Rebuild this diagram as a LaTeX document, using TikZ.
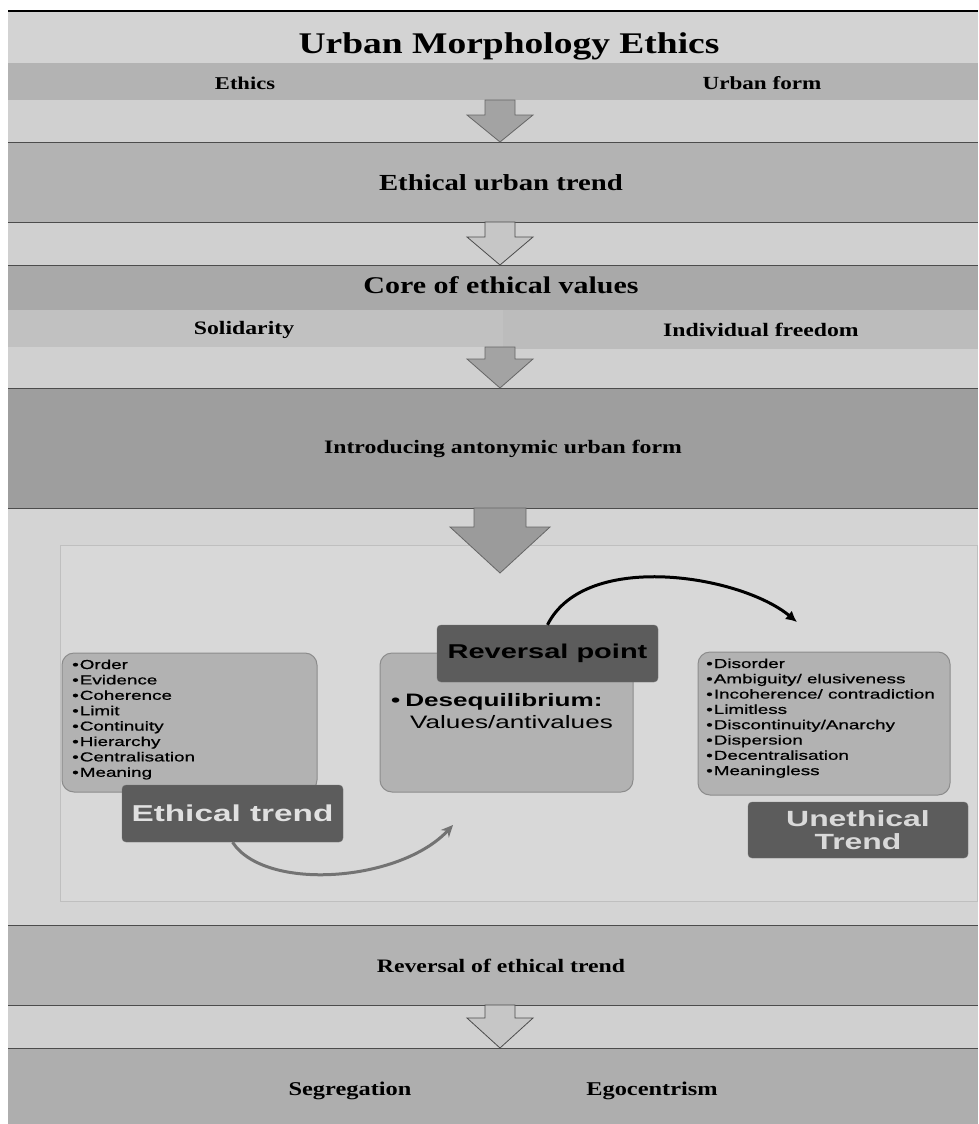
\documentclass[tikz,border=0pt]{standalone}
\usepackage{fontspec}
\setmainfont[FakeStretch=1.25]{Liberation Serif}
\newfontfamily\panelfont[FakeStretch=1.45]{Liberation Sans}
\newfontfamily\itemfont[FakeStretch=1.45,FakeBold=0.8]{Liberation Sans}
\usetikzlibrary{arrows.meta}

\definecolor{titlegray}{HTML}{D3D3D3}
\definecolor{bandlight}{HTML}{D0D0D0}
\definecolor{bandmid}{HTML}{B3B3B3}
\definecolor{bandcore}{HTML}{A9A9A9}
\definecolor{bandsoli}{HTML}{C1C1C1}
\definecolor{bandfree}{HTML}{BCBCBC}
\definecolor{banddark}{HTML}{9E9E9E}
\definecolor{panelgray}{HTML}{D4D4D4}
\definecolor{panelinner}{HTML}{D8D8D8}
\definecolor{boxgray}{HTML}{B2B2B2}
\definecolor{taggray}{HTML}{5C5C5C}
\definecolor{arrowgray}{HTML}{A3A3A3}
\definecolor{arrowlight}{HTML}{C6C6C6}

% block arrow pointing down: style, top, shoulder, tip, half shaft, half head
\newcommand{\bandarrow}[6]{%
  \draw[#1] ({500-#5},#2) -- ({500+#5},#2) -- ({500+#5},#3) -- ({500+#6},#3)
    -- (500,#4) -- ({500-#6},#3) -- ({500-#5},#3) -- cycle;}

\tikzset{
  sepline/.style={draw=black!70,line width=1pt},
  bandtext/.style={anchor=base,inner sep=0pt,font=\bfseries\fontsize{19}{19}\selectfont},
  listbox/.style={draw=black!45,fill=boxgray,rounded corners=12pt,line width=1pt},
  tagbox/.style={draw=black!55,fill=taggray,rounded corners=4pt,inner sep=0pt,
    font=\panelfont\bfseries\fontsize{23}{23}\selectfont},
  itemtext/.style={anchor=base west,inner sep=0pt,
    font=\itemfont\fontsize{13}{13}\selectfont},
  fullarrow/.style={draw=black!60,fill=arrowgray,line width=0.8pt},
  openarrow/.style={draw=black!70,fill=arrowlight,line width=0.8pt},
}

\begin{document}
\begin{tikzpicture}[x=1pt,y=-1pt]
\useasboundingbox (0,0) rectangle (978,1124);
\fill[white] (0,0) rectangle (978,1124);

% bands
\fill[titlegray] (8,11) rectangle (978,63);
\fill[bandmid] (8,63) rectangle (978,100);
\fill[bandlight] (8,100) rectangle (978,142);
\fill[bandmid] (8,142) rectangle (978,222);
\fill[bandlight] (8,222) rectangle (978,265);
\fill[bandcore] (8,265) rectangle (978,310);
\fill[bandsoli] (8,310) rectangle (503,347);
\fill[bandfree] (503,310) rectangle (978,349);
\fill[bandlight] (8,347) rectangle (503,388);
\fill[bandlight] (503,349) rectangle (978,388);
\fill[banddark] (8,388) rectangle (978,508);
\fill[panelgray] (8,508) rectangle (978,925);
\draw[draw=black!25,fill=panelinner] (60,545) rectangle (977,901);
\fill[bandmid] (8,925) rectangle (978,1005);
\fill[bandlight] (8,1005) rectangle (978,1048);
\fill[bandmid!97!black] (8,1048) rectangle (978,1124);

\draw[black,line width=1.5pt] (8,11) -- (978,11);
\foreach \y in {142,222,265,388,508,925,1005,1048}
  \draw[sepline] (8,\y) -- (978,\y);

% band texts
\node[bandtext,font=\bfseries\fontsize{30}{30}\selectfont] (title) at (509,53) {Urban Morphology Ethics};
\node[bandtext,font=\bfseries\fontsize{18}{18}\selectfont] (ethics) at (245,89) {Ethics};
\node[bandtext,font=\bfseries\fontsize{18.5}{18.5}\selectfont] (form) at (762,89) {Urban form};
\node[bandtext,font=\bfseries\fontsize{23}{23}\selectfont] (trend) at (501,190) {Ethical urban trend};
\node[bandtext,font=\bfseries\fontsize{24}{24}\selectfont] (core) at (501,293) {Core of ethical values};
\node[bandtext] (soli) at (244,334) {Solidarity};
\node[bandtext] (free) at (761,336) {Individual freedom};
\node[bandtext] (intro) at (503,453) {Introducing antonymic urban form};
\node[bandtext] (reverse) at (501,972) {Reversal of ethical trend};
\node[bandtext,font=\bfseries\fontsize{19.5}{19.5}\selectfont] (segr) at (350,1095) {Segregation};
\node[bandtext,font=\bfseries\fontsize{19.5}{19.5}\selectfont] (ego) at (652,1095) {Egocentrism};

% arrows between bands
\bandarrow{fullarrow}{100}{115}{142}{15}{33}
\bandarrow{openarrow}{222}{237}{265}{15}{33}
\bandarrow{fullarrow}{347}{359}{388}{15}{33}
\bandarrow{fullarrow,fill=arrowgray!95!black}{508}{527}{573}{26}{50}
\bandarrow{openarrow}{1005}{1018}{1048}{15}{33}

% panel boxes
\node[listbox,minimum width=255,minimum height=139] (ethbox) at (189.5,722.5) {};
\node[listbox,minimum width=253,minimum height=139] (midbox) at (506.5,722.5) {};
\node[listbox,minimum width=252,minimum height=143] (unethbox) at (824,723.5) {};

\foreach \word [count=\i] in {Order,Evidence,Coherence,Limit,Continuity,Hierarchy,Centralisation,Meaning}
  \node[itemtext] (eth\i) at (72,{669+15.4*(\i-1)}) {\textbullet\hspace{1pt}\word};
\foreach \word [count=\i] in {Disorder,Ambiguity/ elusiveness,Incoherence/ contradiction,Limitless,Discontinuity/Anarchy,Dispersion,Decentralisation,Meaningless}
  \node[itemtext] (uneth\i) at (706,{668+15.3*(\i-1)}) {\textbullet\hspace{1pt}\word};

\node[itemtext,font=\panelfont\bfseries\fontsize{18}{18}\selectfont] (deseq) at (391,706) {\textbullet\hspace{5pt}Desequilibrium:};
\node[itemtext,font=\panelfont\fontsize{18}{18}\selectfont] (values) at (410,728) {Values/antivalues};

\node[tagbox,minimum width=221,minimum height=57,text=black!12] (ettag) at (232.5,813.5) {Ethical trend};
\node[tagbox,minimum width=221,minimum height=57,text=black,
  font=\panelfont\bfseries\fontsize{20}{20}\selectfont] (revtag) at (547.5,653.5) {Reversal point};
\node[tagbox,minimum width=220,minimum height=56,text=black!15,align=center,
  font=\panelfont\bfseries\fontsize{22}{23}\selectfont] (unettag) at (858,830) {Unethical\\Trend};

% curved arrows
\coordinate (graytip) at (453,825);
\coordinate (blacktip) at (797,622);
\draw[black!55,line width=3pt,-{Stealth[length=12,width=11]}]
  (ettag.south) .. controls (265,892) and (400,882) .. (graytip);
\draw[black,line width=3pt,-{Latex[length=11,width=11]}]
  (revtag.north) .. controls (585,550) and (740,575) .. (blacktip);
\end{tikzpicture}
\end{document}
